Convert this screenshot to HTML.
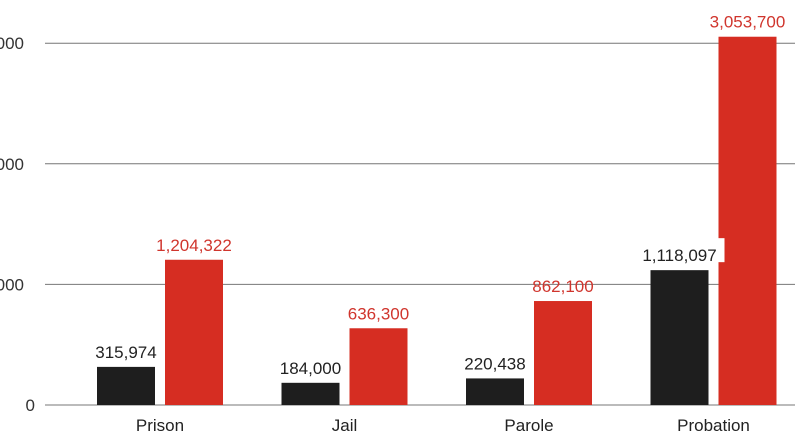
<!DOCTYPE html>
<html><head><meta charset="utf-8"><style>
html,body{margin:0;padding:0;background:#fff;}
svg{display:block;font-family:"Liberation Sans",sans-serif;}
</style></head><body>
<svg id="chart" width="795" height="448"></svg>
<script>
const categories=["Prison","Jail","Parole","Probation"];
const seriesA=[315974,184000,220438,1118097];
const seriesB=[1204322,636300,862100,3053700];
const ticks=[0,1000000,2000000,3000000];
const tickLabels=["0","1,000,000","2,000,000","3,000,000"];
const NS="http://www.w3.org/2000/svg";
const svg=document.getElementById("chart");
const y0=405, pxPer=120.6/1000000;
function y(v){return y0-v*pxPer;}
function x(i){return 160+i*184.5;}
function mk(t,a,txt){const e=document.createElementNS(NS,t);for(const k in a)e.setAttribute(k,a[k]);if(txt!==undefined)e.textContent=txt;svg.appendChild(e);return e;}
const fmt=v=>v.toLocaleString("en-US");
ticks.forEach((t,i)=>{
 const l=mk("line",{x1:45,x2:795,y1:y(t),y2:y(t),stroke:"#777","stroke-width":1});
 
 
 const tx=mk("text",{x:i===0?35:24,y:y(t)+6,"text-anchor":"end","font-size":17,fill:"#333"},tickLabels[i]);
 
 
});
categories.forEach((c,i)=>{
 const cx=x(i);
 const bw=58;
 const ax=cx-bw-5, bx=cx+5;
 const ra=mk("rect",{x:ax,y:y(seriesA[i]),width:bw,height:y0-y(seriesA[i]),fill:"#1e1e1e"});
 
 
 const rb=mk("rect",{x:bx,y:y(seriesB[i]),width:bw,height:y0-y(seriesB[i]),fill:"#d62d22"});
 
 
 if(i===3){
  const bg=mk("rect",{x:ax-16,y:y(seriesA[i])-32,width:bw+32,height:24,fill:"#fff"});
  
  
 }
 const la=mk("text",{x:ax+bw/2,y:y(seriesA[i])-9,"text-anchor":"middle","font-size":17,fill:"#222"},fmt(seriesA[i]));
 
 
 const lb=mk("text",{x:bx+bw/2,y:y(seriesB[i])-9,"text-anchor":"middle","font-size":17,fill:"#d0352d"},fmt(seriesB[i]));
 
 
 const cl=mk("text",{x:cx,y:431,"text-anchor":"middle","font-size":17,fill:"#222"},c);
 
 
});
</script>
</body></html>
